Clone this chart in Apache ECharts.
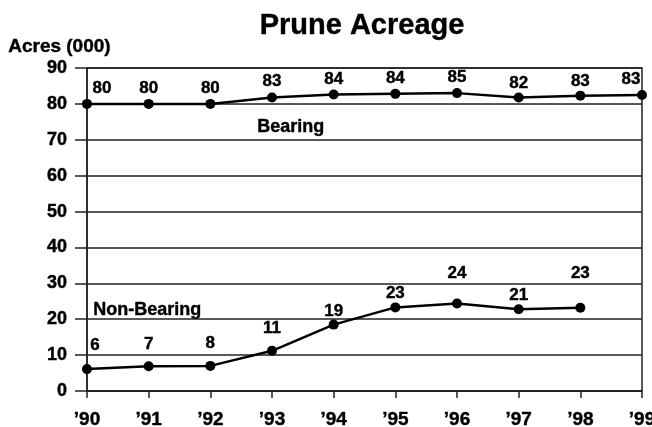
<!DOCTYPE html>
<html>
<head>
<meta charset="utf-8">
<script src="https://cdn.jsdelivr.net/npm/echarts@6/dist/echarts.min.js"></script>
<style>
html,body{margin:0;padding:0;background:#fff;}
#chart{width:652px;height:427px;}
</style>
</head>
<body>
<div id="chart"></div>
<script>
// ---- data ----
const years = ["’90","’91","’92","’93","’94","’95","’96","’97","’98","’99"];
const bearing = [80.0, 80.0, 80.0, 81.8, 82.6, 82.8, 83.0, 81.8, 82.3, 82.5];
const bearingLabels = [80, 80, 80, 83, 84, 84, 85, 82, 83, 83];
const nonBearing = [6.1, 6.9, 7.0, 11.2, 18.5, 23.3, 24.4, 22.8, 23.2, null];
const nonBearingLabels = [6, 7, 8, 11, 19, 23, 24, 21, 23, null];
const yMin = 0, yMax = 90, yStep = 10;

// ---- label layout tweaks (presentation only) ----
const bearingLabelShift = [[15,0],[0,0],[0,0],[0,-1],[0,0],[0,0],[0,0],[0,1],[0,1],[-11,0]];
const nonBearingLabelShift = [[8,-8],[0,-6],[0,-7],[0,-7],[0,2],[0,1],[0,-15],[0,2],[0,-19],[0,0]];

const FONT = "'Liberation Sans', Arial, Helvetica, sans-serif";
const THICK = { textBorderColor: '#000', textBorderWidth: 0.4 };

function items(vals, labels, shifts){
  return vals.map((v,i)=> v==null ? null : ({
    value: v,
    label: { formatter: String(labels[i]), offset: shifts[i] }
  }));
}

const chart = echarts.init(document.getElementById('chart'), null, {renderer:'canvas'});
chart.setOption({
  animation: false,
  backgroundColor: '#fff',
  title: {
    text: 'Prune Acreage',
    left: 357, top: 6, textAlign: 'center',
    textStyle: Object.assign({ fontFamily: FONT, fontSize: 29, fontWeight: 'bold', color: '#000' }, THICK)
  },
  graphic: [
    { type:'text', left: 8, top: 37, style:{ text:'Acres (000)', font:"bold 19px " + FONT, fill:'#000', stroke:'#000', lineWidth:0.4 } },
    { type:'text', left: 257, top: 118, style:{ text:'Bearing', font:"bold 18px " + FONT, fill:'#000', stroke:'#000', lineWidth:0.4 } },
    { type:'text', left: 93, top: 301, style:{ text:'Non-Bearing', font:"bold 18px " + FONT, fill:'#000', stroke:'#000', lineWidth:0.4 } }
  ],
  grid: { left: 87, right: 10, top: 68, bottom: 36, outerBoundsMode: 'none', containLabel: false, show: true, borderColor: '#222', borderWidth: 1.5, backgroundColor: 'transparent' },
  xAxis: {
    type: 'category', data: years, boundaryGap: false,
    axisLine: { show: true, lineStyle: { color: '#222', width: 1.5 } },
    axisTick: { show: true, alignWithLabel: true, length: 7, lineStyle: { color: '#222', width: 1.5 } },
    axisLabel: Object.assign({ margin: 19, fontFamily: FONT, fontSize: 19, fontWeight: 'bold', color: '#000' }, THICK),
    splitLine: { show: false }
  },
  yAxis: {
    type: 'value', min: yMin, max: yMax, interval: yStep,
    axisLine: { show: true, lineStyle: { color: '#222', width: 1.5 } },
    axisTick: { show: true, length: 12, lineStyle: { color: '#222', width: 1.5 } },
    axisLabel: Object.assign({ margin: 20, fontFamily: FONT, fontSize: 18, fontWeight: 'bold', color: '#000' }, THICK),
    splitLine: { show: true, lineStyle: { color: '#222', width: 1.5 } }
  },
  series: [
    {
      name: 'Bearing', type: 'line', data: items(bearing, bearingLabels, bearingLabelShift),
      symbol: 'circle', symbolSize: 10, itemStyle: { color: '#000' },
      lineStyle: { color: '#000', width: 2.5 },
      label: Object.assign({ show: true, position: 'top', distance: 2, fontFamily: FONT, fontSize: 17, fontWeight: 'bold', color: '#000' }, THICK)
    },
    {
      name: 'Non-Bearing', type: 'line', data: items(nonBearing, nonBearingLabels, nonBearingLabelShift),
      symbol: 'circle', symbolSize: 10, itemStyle: { color: '#000' },
      lineStyle: { color: '#000', width: 2.5 },
      label: Object.assign({ show: true, position: 'top', distance: 2, fontFamily: FONT, fontSize: 17, fontWeight: 'bold', color: '#000' }, THICK)
    }
  ]
});
</script>
</body>
</html>
